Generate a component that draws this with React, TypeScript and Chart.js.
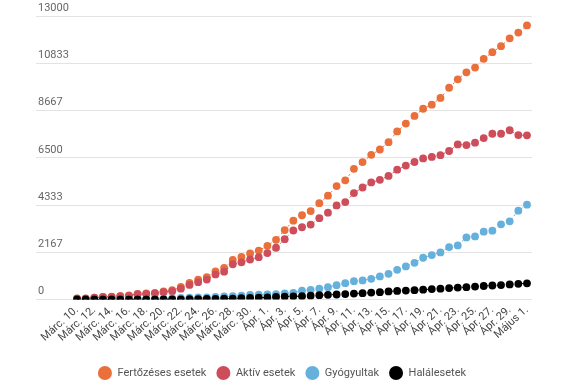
import { useEffect, useRef } from 'react';
import { Chart, registerables } from 'chart.js';

Chart.register(...registerables);

const dates = [
  'Márc. 10.', 'Márc. 11.', 'Márc. 12.', 'Márc. 13.', 'Márc. 14.', 'Márc. 15.', 'Márc. 16.', 'Márc. 17.',
  'Márc. 18.', 'Márc. 19.', 'Márc. 20.', 'Márc. 21.', 'Márc. 22.', 'Márc. 23.', 'Márc. 24.', 'Márc. 25.',
  'Márc. 26.', 'Márc. 27.', 'Márc. 28.', 'Márc. 29.', 'Márc. 30.', 'Márc. 31.',
  'Ápr. 1.', 'Ápr. 2.', 'Ápr. 3.', 'Ápr. 4.', 'Ápr. 5.', 'Ápr. 6.', 'Ápr. 7.', 'Ápr. 8.', 'Ápr. 9.', 'Ápr. 10.',
  'Ápr. 11.', 'Ápr. 12.', 'Ápr. 13.', 'Ápr. 14.', 'Ápr. 15.', 'Ápr. 16.', 'Ápr. 17.', 'Ápr. 18.', 'Ápr. 19.', 'Ápr. 20.',
  'Ápr. 21.', 'Ápr. 22.', 'Ápr. 23.', 'Ápr. 24.', 'Ápr. 25.', 'Ápr. 26.', 'Ápr. 27.', 'Ápr. 28.', 'Ápr. 29.', 'Ápr. 30.',
  'Május 1.',
];

const confirmed = [
  45, 49, 89, 123, 131, 158, 184, 260, 277, 308,
  367, 433, 576, 762, 906, 1029, 1292, 1452, 1815, 1952,
  2109, 2245, 2460, 2738, 3183, 3613, 3864, 4057, 4417, 4761,
  5202, 5467, 5990, 6300, 6633, 6879, 7216, 7707, 8067, 8418,
  8746, 8936, 9242, 9710, 10096, 10417, 10635, 11036, 11339, 11616,
  11978, 12240, 12567,
];

const active = [
  39, 43, 83, 114, 122, 149, 167, 241, 258, 283,
  336, 378, 496, 669, 795, 912, 1151, 1278, 1616, 1707,
  1834, 1940, 2131, 2373, 2767, 3164, 3312, 3436, 3727, 3981,
  4315, 4466, 4878, 5136, 5368, 5487, 5665, 5952, 6140, 6305,
  6470, 6540, 6620, 6810, 7110, 7080, 7190, 7400, 7600, 7600,
  7760, 7540, 7530,
];

const recovered = [
  6, 6, 6, 9, 9, 9, 17, 19, 19, 25,
  31, 52, 73, 82, 94, 94, 115, 137, 156, 180,
  206, 220, 235, 250, 283, 303, 401, 445, 493, 565,
  658, 750, 842, 873, 949, 1057, 1179, 1363, 1516, 1684,
  1914, 2036, 2159, 2404, 2481, 2848, 2894, 3110, 3155, 3446,
  3583, 4074, 4350,
];

const deaths = [
  0, 0, 0, 0, 0, 0, 0, 0, 0, 0,
  0, 3, 7, 11, 17, 23, 26, 37, 43, 65,
  69, 85, 94, 115, 133, 146, 151, 176, 197, 215,
  229, 251, 270, 291, 316, 335, 372, 392, 411, 429,
  451, 478, 498, 523, 545, 567, 594, 619, 641, 663,
  693, 717, 744,
];

const yTicks = [0, 2167, 4333, 6500, 8667, 10833, 13000];

const seriesNames = ['Fertőzéses esetek', 'Aktív esetek', 'Gyógyultak', 'Halálesetek'];
const seriesColors = ['#EA6F3B', '#CE4D5B', '#65B1DC', '#000000'];

export default function App() {
  const ref = useRef<HTMLCanvasElement | null>(null);

  useEffect(() => {
    document.body.style.margin = '0';
    if (!ref.current) return;
    const all = [confirmed, active, recovered, deaths];
    const orders = [3, 2, 1, 0];
    const chart = new Chart(ref.current, {
      type: 'line',
      data: {
        datasets: all.map((arr, k) => ({
          label: seriesNames[k],
          data: arr.map((y, i) => ({ x: i, y })),
          order: orders[k],
          borderColor: seriesColors[k],
          backgroundColor: seriesColors[k],
          pointBackgroundColor: seriesColors[k],
          pointBorderColor: seriesColors[k],
          pointBorderWidth: 0,
          pointRadius: 3.9,
          pointStyle: 'circle',
          borderWidth: 1,
          borderDash: [2, 3],
          tension: 0,
          fill: false,
        })),
      },
      options: {
        animation: false,
        responsive: false,
        devicePixelRatio: 1,
        layout: { padding: { left: 32, right: 43, top: 16, bottom: -3 } },
        font: { family: 'Roboto' },
        plugins: {
          tooltip: { enabled: false },
          legend: {
            position: 'bottom',
            labels: {
              boxWidth: 14,
              boxHeight: 14,
              useBorderRadius: true,
              borderRadius: 7,
              padding: 10,
              color: '#555555',
              font: { family: 'Roboto', size: 11 },
              generateLabels: (c: any) =>
                c.data.datasets.map((ds: any, i: number) => ({
                  text: ds.label,
                  fillStyle: seriesColors[i],
                  strokeStyle: seriesColors[i],
                  lineWidth: 0,
                  datasetIndex: i,
                  hidden: false,
                  borderRadius: 7,
                  fontColor: '#555555',
                })),
            },
          },
        },
        scales: {
          x: {
            type: 'linear',
            min: -4.74,
            max: 52.58,
            afterBuildTicks: (scale: any) => {
              scale.ticks = dates
                .map((_, i) => ({ value: i }))
                .filter((t) => t.value % 2 === 0);
            },
            afterFit: (scale: any) => {
              scale.height += 8;
            },
            grid: { display: false, drawTicks: false },
            border: { display: false },
            ticks: {
              autoSkip: false,
              minRotation: 42,
              maxRotation: 42,
              padding: 4,
              color: '#444444',
              font: { family: 'Roboto', size: 11 },
              callback: (v: any) => dates[v as number],
            },
          },
          y: {
            min: 0,
            max: 13000,
            afterBuildTicks: (scale: any) => {
              scale.ticks = yTicks.map((v) => ({ value: v }));
            },
            grid: { color: '#e3e3e3', drawTicks: false, lineWidth: 1 },
            border: { display: false },
            ticks: {
              mirror: true,
              padding: 2,
              labelOffset: -8,
              color: '#666666',
              font: { family: 'Roboto', size: 11 },
              callback: (v: any) => String(v),
            },
          },
        },
      },
    });
    return () => chart.destroy();
  }, []);

  return (
    <div style={{ position: 'absolute', left: 0, top: 0, width: 575, height: 387, background: '#fff' }}>
      <canvas ref={ref} width={575} height={387} />
    </div>
  );
}
